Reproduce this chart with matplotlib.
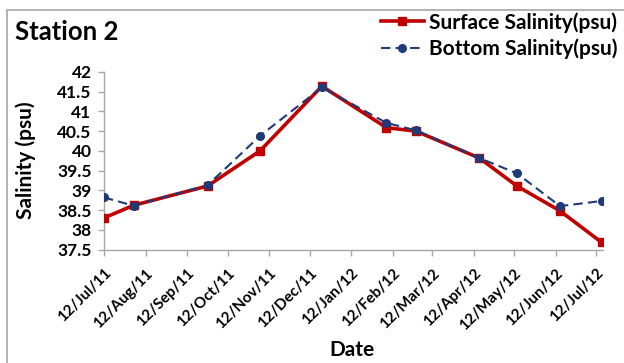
import matplotlib
matplotlib.use("Agg")
import matplotlib.pyplot as plt
import pandas as pd
from matplotlib.patches import Rectangle

# sampling dates and salinity readings for station 2
dates = pd.to_datetime([
    "2011-07-12", "2011-08-03", "2011-09-27", "2011-11-05", "2011-12-21",
    "2012-02-07", "2012-02-29", "2012-04-16", "2012-05-14", "2012-06-15",
    "2012-07-16",
])
surface = [38.3, 38.62, 39.11, 40.0, 41.64, 40.59, 40.5, 39.82, 39.11, 38.48, 37.68]
bottom = [38.82, 38.61, 39.13, 40.38, 41.61, 40.71, 40.52, 39.82, 39.43, 38.6, 38.73]

tick_dates = pd.date_range("2011-07-12", periods=13, freq=pd.DateOffset(months=1))
tick_labels = [d.strftime("%d/%b/%y") for d in tick_dates]
y_ticks = [37.5, 38, 38.5, 39, 39.5, 40, 40.5, 41, 41.5, 42]

plt.rcParams['font.family'] = ['Lato', 'DejaVu Sans']
plt.rcParams['font.weight'] = 'bold'

fig = plt.figure(figsize=(6.24, 3.63), dpi=100)
ax = fig.add_axes([104 / 624, 1 - 249.5 / 363, 499 / 624, 177.5 / 363])

# outer frame of the chart area
fig.patches.append(Rectangle((7 / 624, -0.1), 1.2, 1 - 10 / 363 + 0.1,
                             transform=fig.transFigure, fill=False,
                             edgecolor='#a6a6a6', lw=1.2))

red = '#c00000'
navy = '#1f3a78'
ax.plot(dates, surface, color=red, lw=2.6, marker='s', ms=6,
        label='Surface Salinity(psu)', zorder=3)
ax.plot(dates, bottom, color=navy, lw=1.5, ls=(0, (4.5, 2.5)), marker='o', ms=5.5,
        label='Bottom Salinity(psu)', zorder=4)

ax.set_ylim(37.5, 42)
ax.set_yticks(y_ticks)
ax.set_yticklabels([f"{v:g}" for v in y_ticks], fontsize=12.5, fontweight='bold')
ax.set_xlim(tick_dates[0], pd.Timestamp("2012-07-17"))
ax.set_xticks(tick_dates)
ax.set_xticklabels(tick_labels, rotation=45, ha='right', rotation_mode='anchor',
                   fontsize=11, fontweight='bold')

for side in ['top', 'right']:
    ax.spines[side].set_visible(False)
for side in ['left', 'bottom']:
    ax.spines[side].set_color('#a6a6a6')
    ax.spines[side].set_linewidth(1.0)
ax.tick_params(axis='both', colors='#a6a6a6', labelcolor='black', length=4, width=1.0)
ax.tick_params(axis='x', pad=8)
ax.tick_params(axis='y', pad=5)

fig.text(26 / 624, 1 - 160 / 363, "Salinity (psu)", ha='center', va='center',
         rotation=90, fontsize=15, fontweight='bold')
fig.text(352 / 624, 1 - 350 / 363, "Date", ha='center', va='center',
         fontsize=15, fontweight='bold')
fig.text(15 / 624, 1 - 32 / 363, "Station 2", ha='left', va='center',
         fontsize=18.5, fontweight='bold')

leg = ax.legend(loc='upper right', bbox_to_anchor=(618 / 624, 1 - 12 / 363),
                bbox_transform=fig.transFigure, frameon=False,
                prop={'size': 15, 'weight': 'bold'}, handlelength=2.1,
                handletextpad=0.25, labelspacing=0.3, borderaxespad=0,
                borderpad=0)

fig.savefig("out.png", dpi=100)
